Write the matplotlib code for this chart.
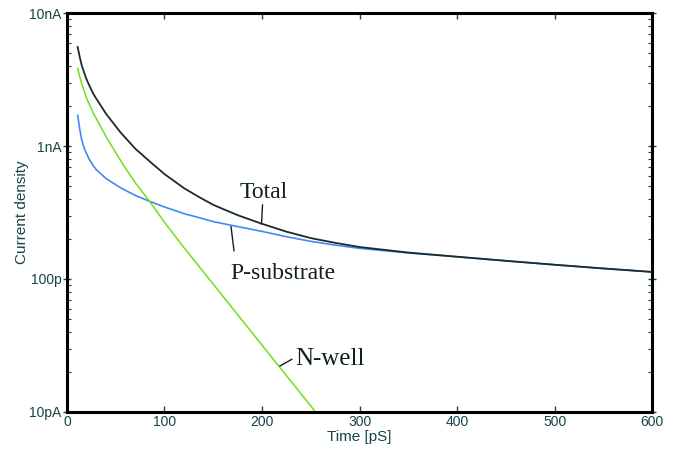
import matplotlib.pyplot as plt
import numpy as np
from matplotlib.ticker import FixedLocator, LogLocator, NullFormatter

plt.rcParams["font.family"] = ["Liberation Sans", "DejaVu Sans"]

# time axis in pS, currents in nA
time_ps = [11, 13, 15, 18, 20, 23, 27, 30, 40, 55, 70, 85, 100, 120, 135,
           150, 175, 200, 225, 250, 275, 300, 350, 400, 450, 500, 550, 600]
p_substrate = [1.70, 1.35, 1.12, 0.95, 0.88, 0.79, 0.71, 0.665, 0.57, 0.485,
               0.425, 0.383, 0.348, 0.31, 0.29, 0.27, 0.248, 0.228, 0.208,
               0.192, 0.180, 0.170, 0.157, 0.147, 0.137, 0.128, 0.120, 0.113]
total = [5.55, 4.70, 4.07, 3.50, 3.18, 2.84, 2.47, 2.275, 1.75, 1.263,
         0.955, 0.764, 0.615, 0.482, 0.415, 0.361, 0.302, 0.260, 0.227,
         0.203, 0.187, 0.174, 0.158, 0.147, 0.137, 0.128, 0.120, 0.113]

nwell_time = [11, 13, 15, 18, 20, 23, 27, 30, 40, 50, 60, 70, 85, 100, 120,
              150, 200, 250, 260]
n_well = [3.85, 3.35, 2.95, 2.55, 2.30, 2.05, 1.76, 1.61, 1.18, 0.89, 0.68,
          0.53, 0.381, 0.267, 0.172, 0.0914, 0.0318, 0.0111, 0.0089]

ytick_vals = [0.01, 0.1, 1, 10]
ytick_labels = ["10pA", "100p", "1nA", "10nA"]
xtick_vals = [0, 100, 200, 300, 400, 500, 600]

txt_col = "#134646"
ink = "#102020"

fig = plt.figure(figsize=(6.82, 4.57), dpi=100)
ax = fig.add_axes([0.0982, 0.0985, 0.858, 0.873])

ax.plot(time_ps, total, color="#1b2b2b", lw=1.3, zorder=3)
ax.plot(time_ps, p_substrate, color="#3d8af7", lw=1.2, zorder=2)
ax.plot(nwell_time, n_well, color="#6fe01a", lw=1.1, zorder=2)

ax.set_yscale("log")
ax.set_xlim(0, 600)
ax.set_ylim(0.01, 10)

ax.xaxis.set_major_locator(FixedLocator(xtick_vals))
ax.set_xticklabels([str(v) for v in xtick_vals])
ax.yaxis.set_major_locator(FixedLocator(ytick_vals))
ax.set_yticklabels(ytick_labels)
ax.yaxis.set_minor_locator(LogLocator(base=10, subs=np.arange(2, 10)))
ax.yaxis.set_minor_formatter(NullFormatter())

for s in ax.spines.values():
    s.set_linewidth(2.2)
    s.set_color("black")

ax.tick_params(axis="x", which="major", direction="in", length=4, width=1,
               top=True, bottom=True, pad=2, labelsize=10, labelcolor=txt_col,
               color=txt_col)
ax.tick_params(axis="y", which="major", direction="inout", length=6, width=1,
               left=True, right=True, pad=1, labelsize=10, labelcolor=txt_col,
               color=txt_col)
ax.tick_params(axis="y", which="minor", direction="in", length=3, width=0.8,
               left=True, right=True, color=txt_col)

ax.set_xlabel("Time [pS]", fontsize=11, color=txt_col, labelpad=1)
ax.set_ylabel("Current density", fontsize=11, color=txt_col, labelpad=0)

# curve labels with leader lines
serif = "Liberation Serif"
ax.text(202, 0.406, "Total", fontsize=17, family=serif, color=ink,
        ha="center", va="baseline")
ax.plot([200.5, 199.5], [0.36, 0.26], color=ink, lw=1)

ax.text(221.5, 0.1, "P-substrate", fontsize=17, family=serif, color=ink,
        ha="center", va="baseline")
ax.plot([168.2, 171.3], [0.247, 0.163], color=ink, lw=1)

ax.text(269.7, 0.0225, "N-well", fontsize=18, family=serif, color=ink,
        ha="center", va="baseline")
ax.plot([218.5, 230.5], [0.0222, 0.0249], color=ink, lw=1)

fig.savefig("out.png", dpi=100)
